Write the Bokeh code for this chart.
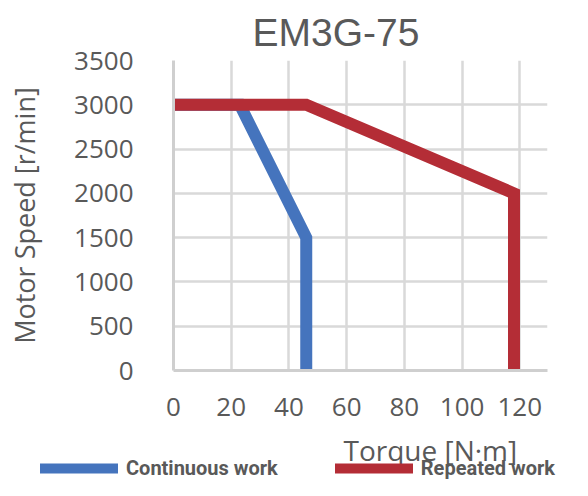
from bokeh.plotting import figure
from bokeh.layouts import column
from bokeh.models import (Range1d, FixedTicker, Legend, LegendItem, Label)
from bokeh.embed import file_html
from bokeh.resources import INLINE

# ---- data ----
chart_title = "EM3G-75"
x_label = "Torque [N·m]"
y_label = "Motor Speed [r/min]"
x_ticks = [0, 20, 40, 60, 80, 100, 120]
y_ticks = [0, 500, 1000, 1500, 2000, 2500, 3000, 3500]

continuous_torque = [0, 23, 46, 46]
continuous_speed = [3000, 3000, 1500, 0]
repeated_torque = [0, 46, 118, 118]
repeated_speed = [3000, 3000, 2000, 0]

series_names = ["Continuous work", "Repeated work"]
blue = "#4574BD"
red = "#B42D36"
gray = "#595959"
grid = "#D9D9D9"

# ---- main chart ----
p = figure(width=572, height=428, output_backend="svg",
           toolbar_location=None,
           x_range=Range1d(0, 129.6), y_range=Range1d(0, 3500),
           min_border_left=173, min_border_right=25,
           min_border_top=60, min_border_bottom=58)
p.outline_line_color = None
p.background_fill_color = "white"
p.border_fill_color = "white"

p.title.text = chart_title
p.title.text_font = "Liberation Sans"
p.title.text_font_size = "39px"
p.title.text_font_style = "normal"
p.title.text_color = gray
p.title.align = "left"
p.title.offset = 79
p.title.standoff = 14

for ax in (p.xaxis[0], p.yaxis[0]):
    ax.major_tick_line_color = None
    ax.minor_tick_line_color = None
    ax.axis_line_color = "#CFCFCF"
    ax.axis_line_width = 3
    ax.major_label_text_font = "Open Sans"
    ax.major_label_text_font_size = "26px"
    ax.major_label_text_color = gray

p.xaxis.ticker = FixedTicker(ticks=x_ticks)
p.yaxis.ticker = FixedTicker(ticks=y_ticks)
p.xaxis.major_label_standoff = 21
p.yaxis.major_label_standoff = 34

p.yaxis.axis_label = y_label
p.yaxis.axis_label_text_font = "Open Sans"
p.yaxis.axis_label_text_font_size = "27px"
p.yaxis.axis_label_text_font_style = "normal"
p.yaxis.axis_label_text_color = gray
p.yaxis.axis_label_standoff = 28

p.xgrid.ticker = FixedTicker(ticks=x_ticks)
p.ygrid.ticker = FixedTicker(ticks=y_ticks)
p.xgrid.grid_line_color = grid
p.ygrid.grid_line_color = grid
p.xgrid.grid_line_width = 2.5
p.ygrid.grid_line_width = 2.5

p.line(continuous_torque, continuous_speed, line_color=blue, line_width=12,
       line_cap="square", line_join="miter")
p.line(repeated_torque, repeated_speed, line_color=red, line_width=12,
       line_cap="square", line_join="miter")

# ---- strip below: x-axis title and legend ----
q = figure(width=572, height=52, output_backend="svg", toolbar_location=None,
           x_range=Range1d(0, 572), y_range=Range1d(52, 0),
           x_axis_location=None, y_axis_location=None,
           min_border=0, min_border_left=0, min_border_right=0,
           min_border_top=0, min_border_bottom=0)
if "frame_align" in q.properties():
    q.frame_align = False
if "frame_align" in p.properties():
    p.frame_align = False
q.title = None
q.outline_line_color = None
q.grid.visible = False
q.background_fill_color = "white"
q.border_fill_color = "white"

q.add_layout(Label(x=343, y=21, text=x_label, text_font="Open Sans",
                   text_font_size="28px", text_color=gray,
                   text_align="left", text_baseline="alphabetic"))

# legend swatches: hidden copies of the two series (only their legend shows)
lb = q.line(continuous_torque, continuous_speed, line_color=blue,
            line_width=10, line_cap="round", visible=False)
lr = q.line(repeated_torque, repeated_speed, line_color=red,
            line_width=10, line_cap="round", visible=False)
legend = Legend(items=[LegendItem(label=series_names[0], renderers=[lb]),
                       LegendItem(label=series_names[1], renderers=[lr])],
                orientation="horizontal", location=(40, 0),
                glyph_width=78, glyph_height=24, label_height=24,
                label_standoff=8, spacing=57,
                padding=0, margin=0, border_line_color=None,
                background_fill_alpha=0,
                label_text_font="Roboto",
                label_text_font_style="bold", label_text_font_size="20px",
                label_text_color=gray)
q.add_layout(legend, "center")

open("out.html", "w").write(file_html(column(p, q), INLINE))
